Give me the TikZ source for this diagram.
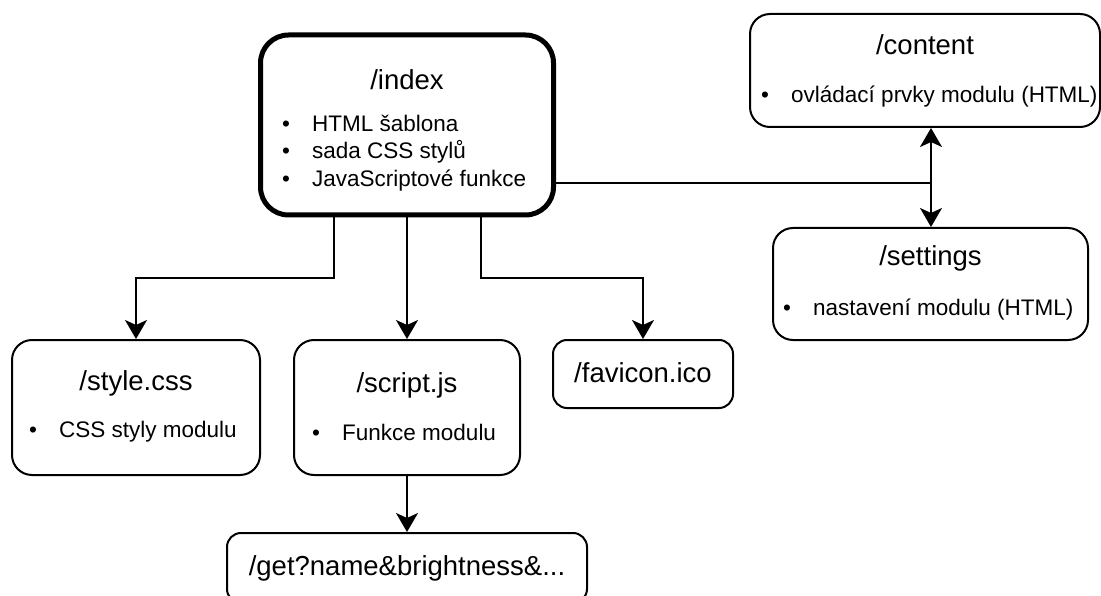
\documentclass[tikz,border=0pt]{standalone}
\usepackage{fontspec}
\setmainfont{Liberation Sans}
\usetikzlibrary{arrows.meta,positioning}
\newcommand{\bul}{\makebox[30pt][l]{•}}

\begin{document}
\begin{tikzpicture}[x=1pt,y=-1pt,
    box/.style={draw,line width=2pt,rounded corners=20pt,inner sep=0pt},
    smallbox/.style={box,rounded corners=14pt},
    mainbox/.style={box,line width=5pt,rounded corners=28pt},
    title/.style={inner sep=0pt,font=\fontsize{27.5}{33}\selectfont},
    items/.style={anchor=west,inner sep=0pt,align=left,font=\fontsize{22.5}{27.5}\selectfont},
    conn/.style={line width=2pt,-{Stealth[length=19pt,width=22pt,inset=5pt]}},
    link/.style={line width=2pt}]
    \useasboundingbox (0,0) rectangle (1101,596);

    % Index
    \node[mainbox,minimum width=293pt,minimum height=180pt] (index) at (407,125) {};
    \node[title] (indext) at (407,80) {/index};
    \node[items] (indexl) at (282,153) {\bul HTML šablona\\\bul sada CSS stylů\\\bul JavaScriptové funkce};

    % Content and settings
    \node[box,minimum width=350pt,minimum height=113pt] (content) at (925,70.5) {};
    \node[title] (contentt) at (925,45) {/content};
    \node[items] (contentl) at (761,97) {\bul ovládací prvky modulu (HTML)};

    \node[box,minimum width=315pt,minimum height=112pt] (settings) at (930.5,284) {};
    \node[title] (settingst) at (930.5,258) {/settings};
    \node[items] (settingsl) at (783,310) {\bul nastavení modulu (HTML)};

    % Files
    \node[box,minimum width=248pt,minimum height=135pt] (style) at (136,407.5) {};
    \node[title] (stylet) at (136,383) {/style.css};
    \node[items] (stylel) at (29,432) {\bul CSS styly modulu};

    \node[box,minimum width=226pt,minimum height=135pt] (script) at (407,407.5) {};
    \node[title] (scriptt) at (407,385) {/script.js};
    \node[items] (scriptl) at (312,432) {\bul Funkce modulu};

    \node[smallbox,minimum width=180pt,minimum height=68pt] (favicon) at (643,374) {};
    \node[title] (favicont) at (643,373) {/favicon.ico};

    % Request
    \node[smallbox,minimum width=360pt,minimum height=70pt] (get) at (407,568) {};
    \node[title] (gett) at (407,568) {/get?name\&brightness\&...};

    % Connectors
    \draw[conn] ([xshift=-73.5pt]index.south) -- ++(0,61) -| (style.north);
    \draw[conn] (index.south) -- (script.north);
    \draw[conn] ([xshift=73.5pt]index.south) -- ++(0,61) -| (favicon.north);
    \draw[conn] (script.south) -- (get.north);

    \coordinate (split) at (931,183);
    \draw[link] ([yshift=-58pt]index.east) -- (split);
    \draw[conn] (split) -- (split |- content.south);
    \draw[conn] (split) -- (split |- settings.north);
\end{tikzpicture}
\end{document}
